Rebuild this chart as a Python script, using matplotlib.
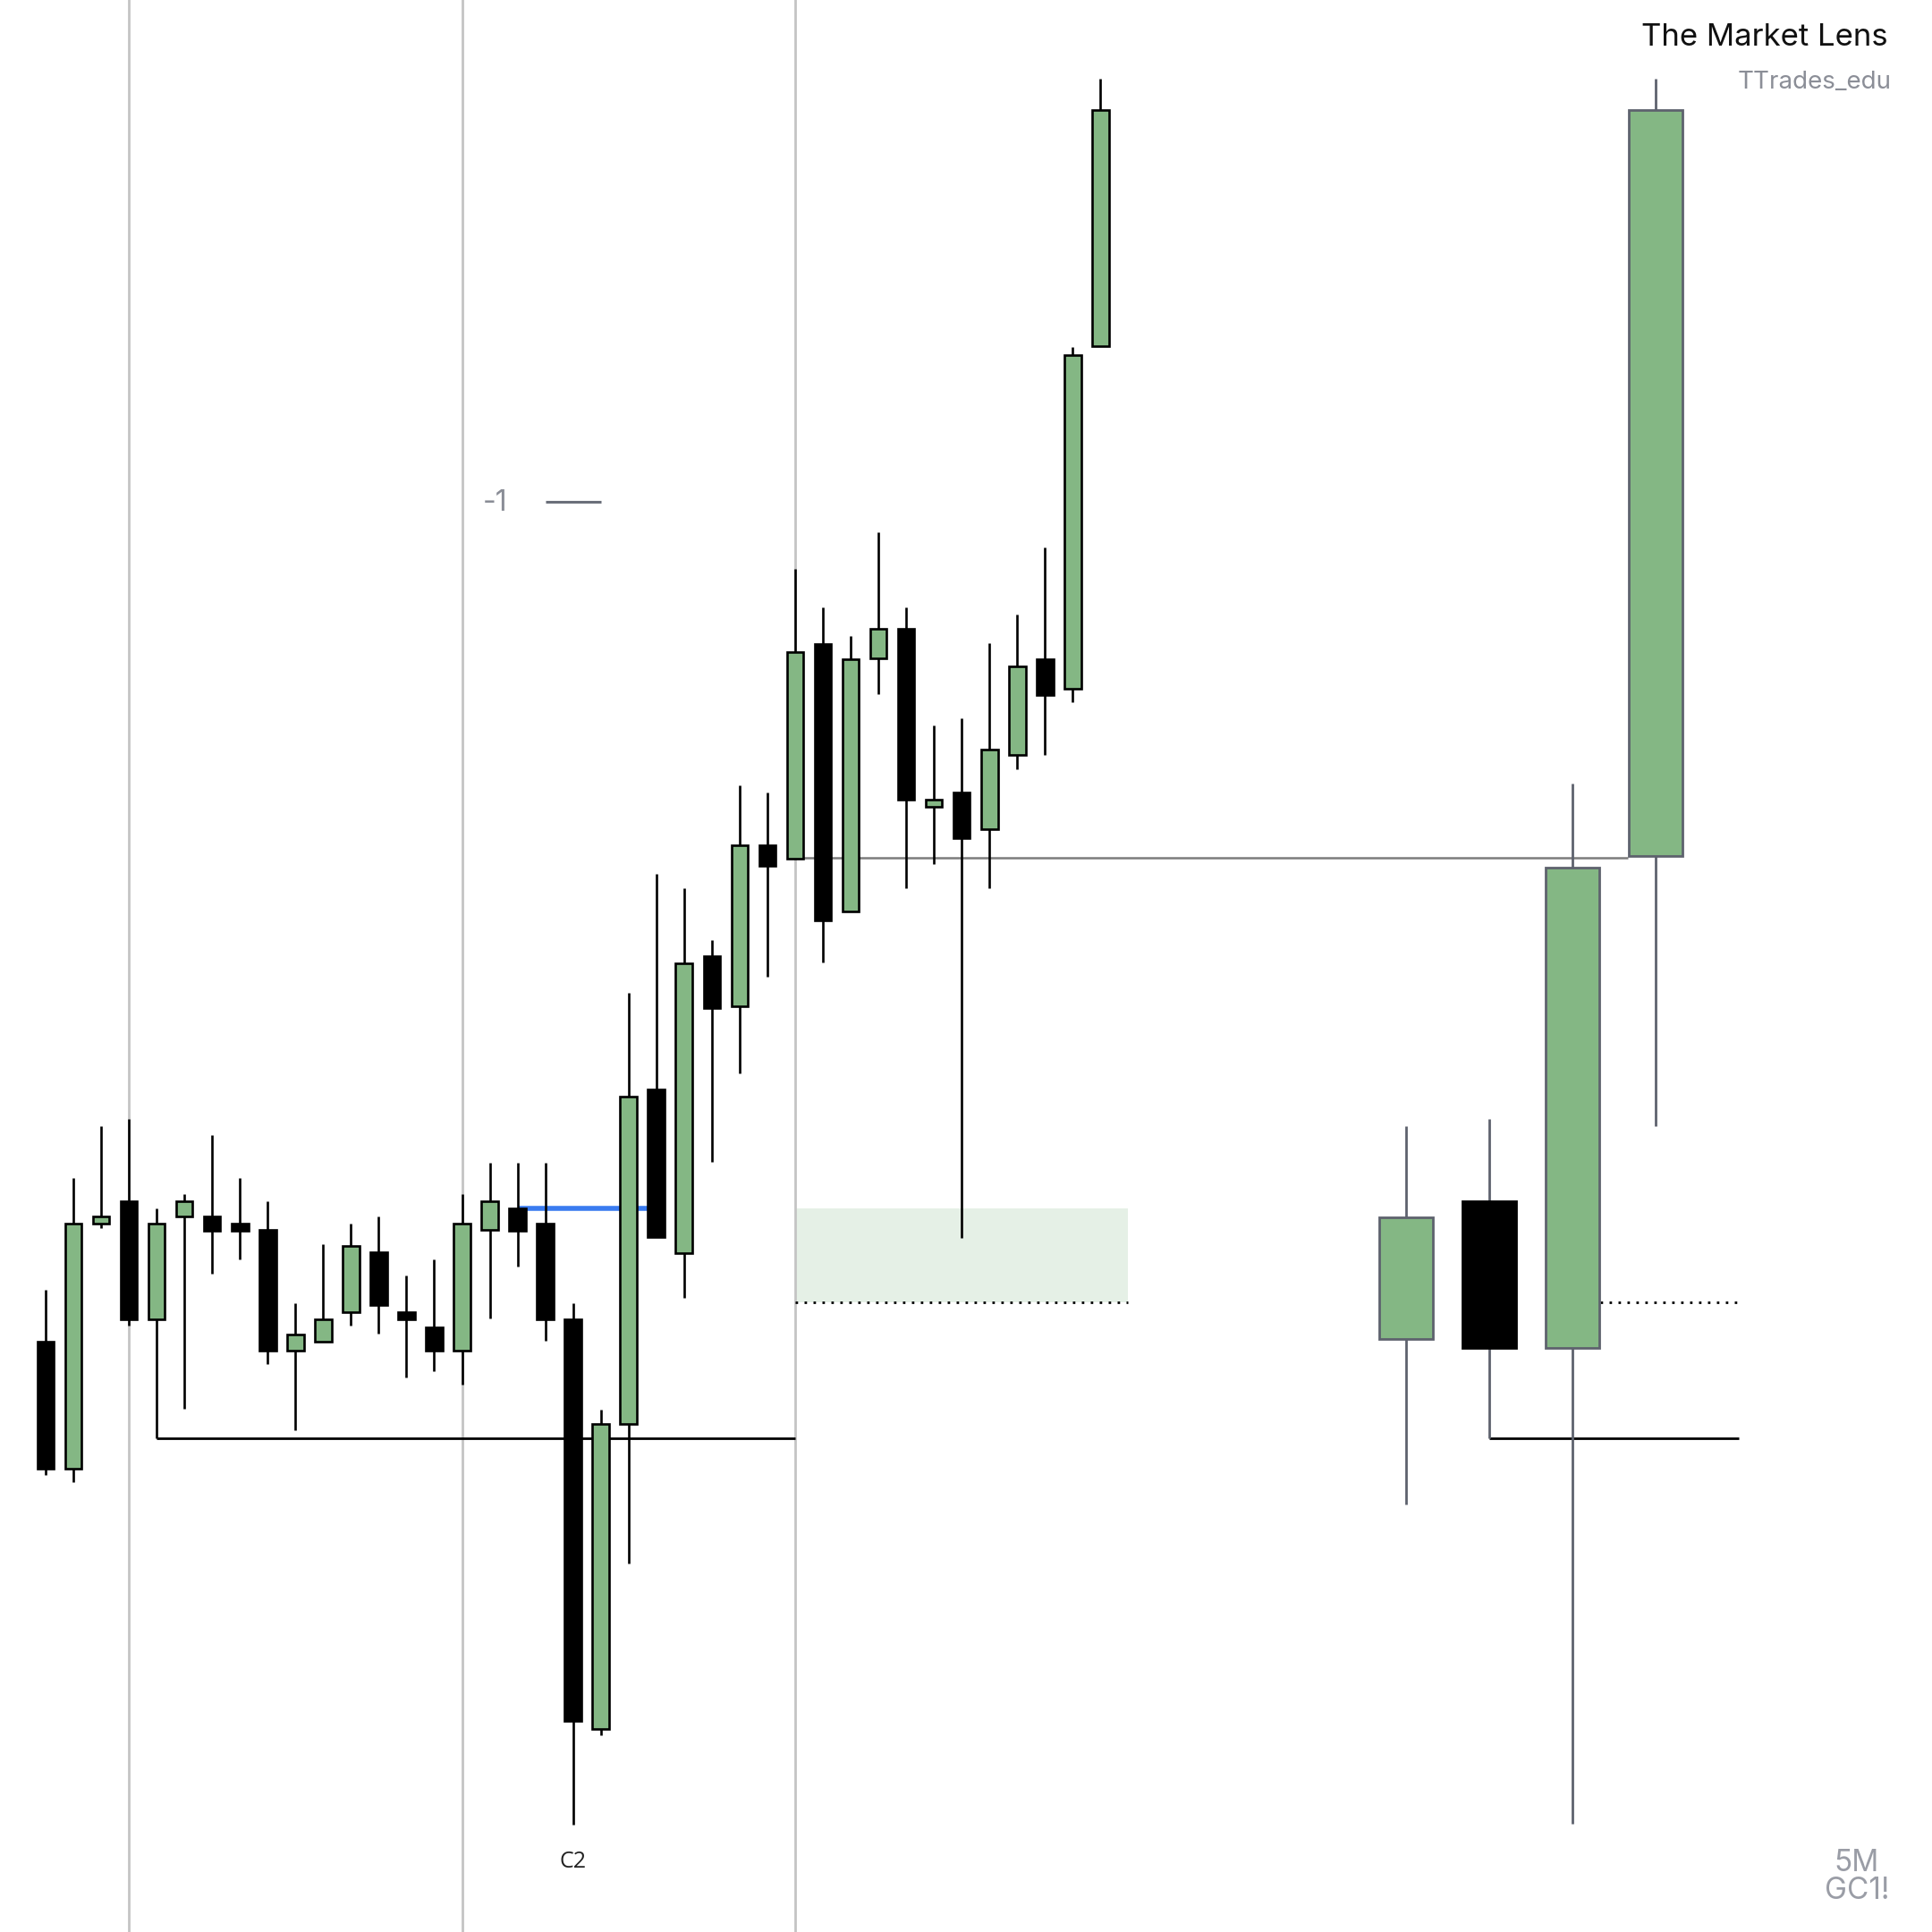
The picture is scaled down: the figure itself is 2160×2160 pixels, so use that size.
import matplotlib
matplotlib.use("Agg")
import matplotlib.pyplot as plt

# ---------------- data (price units) ----------------
# main 5M candles: open, high, low, close
opens  = [479, 376, 575, 593, 497, 581, 581, 575, 570, 472, 479, 503, 552, 503, 491, 472, 570, 587, 575,
          497, 165, 412, 684, 551, 792, 751, 882, 871, 1045, 828, 1034, 1058, 913, 925, 895, 955, 1033, 1009, 1287]
highs  = [521, 612, 654, 660, 587, 599, 647, 612, 593, 510, 558, 575, 581, 533, 546, 599, 624, 624, 624,
          510, 424, 762, 859, 847, 805, 931, 925, 1106, 1075, 1052, 1136, 1075, 979, 985, 1046, 1069, 1124, 1286, 1504]
lows   = [371, 365, 571, 492, 401, 425, 534, 546, 461, 407, 479, 492, 486, 450, 455, 444, 498, 540, 480,
          87, 160, 299, 564, 515, 625, 697, 775, 871, 787, 828, 1005, 847, 867, 563, 847, 944, 955, 998, 1287]
closes = [376, 575, 581, 497, 575, 593, 569, 569, 472, 485, 497, 557, 509, 497, 472, 575, 593, 569, 497,
          171, 412, 678, 564, 786, 750, 882, 865, 1039, 821, 1033, 1058, 919, 919, 888, 960, 1027, 1004, 1280, 1479]

# higher-timeframe candles on the right
htf_x      = [49, 52, 55, 58]
htf_open   = [481, 593, 474, 873]
htf_high   = [654, 660, 932, 1504]
htf_low    = [347, 401, 88, 654]
htf_close  = [580, 474, 864, 1479]

# levels
session_lines = [3, 15, 27]
low_level = 401          # black swing-low line
blue_level = 587
gray_level = 872
zone_top, zone_bottom = 587, 511
minus1_level = 1161

GREEN = "#84b784"
WICK_GRAY = "#5e626e"

fig = plt.figure(figsize=(21.6, 21.6), dpi=100)
ax = fig.add_axes([0, 0, 1, 1])
ax.set_xlim(-1.642, 67.954)
ax.set_ylim(0, 1568)
ax.axis("off")

# session separators
for sx in session_lines:
    ax.axvline(sx, color="#c4c4c4", lw=2.0, zorder=1)

# FVG zone
ax.fill_between([27, 39], zone_bottom, zone_top, color="#e5f0e6", lw=0, zorder=0.5)
ax.hlines(zone_bottom, 27, 39, colors="black", lw=2.0, linestyles=(0, (1, 2.6)), zorder=2)

# level lines
ax.hlines(low_level, 4, 27, colors="black", lw=2.0, zorder=2)
ax.hlines(blue_level, 17, 21.7, colors="#3a7bf0", lw=4.0, zorder=2)
ax.hlines(gray_level, 27, 57, colors="#7c7c7c", lw=1.8, zorder=2)

# main candles
n = len(opens)
xs = list(range(n))
for i in xs:
    o, h, l, c = opens[i], highs[i], lows[i], closes[i]
    bull = c >= o
    ax.vlines(i, l, h, colors="black", lw=1.9, zorder=3)
    ax.bar(i, c - o, bottom=o, width=0.6,
           color=GREEN if bull else "black", edgecolor="black", linewidth=1.9, zorder=4)

# higher timeframe candles
for x, o, h, l, c in zip(htf_x, htf_open, htf_high, htf_low, htf_close):
    bull = c >= o
    ax.vlines(x, l, h, colors=WICK_GRAY, lw=2.0, zorder=3)
    ax.bar(x, c - o, bottom=o, width=1.93,
           color=GREEN if bull else "black",
           edgecolor=WICK_GRAY if bull else "black", linewidth=2.0, zorder=4)

# right side levels
ax.hlines(low_level, 52, 61, colors="black", lw=2.0, zorder=2)
ax.hlines(zone_bottom, 56, 61, colors="black", lw=2.0, linestyles=(0, (1, 2.6)), zorder=2)

# -1 label
ax.text(16.64, minus1_level - 1, "-1", ha="right", va="center", fontsize=23,
        color="#8a8d96", family=["Inter", "DejaVu Sans"])
ax.hlines(minus1_level, 18.02, 20.0, colors="#6b6f7a", lw=2.2, zorder=2)

# C2 label
ax.text(19, 57, "C2", ha="center", va="center", fontsize=18, color="#222222",
        family=["Open Sans", "DejaVu Sans"])

# header / footer text
fig.text(0.977, 0.9806, "The Market Lens", ha="right", va="center", fontsize=25,
         color="#111111", family=["Inter", "DejaVu Sans"])
fig.text(0.979, 0.9575, "TTrades_edu", ha="right", va="center", fontsize=20,
         color="#8b8e97", family=["Inter", "DejaVu Sans"])
fig.text(0.961, 0.0285, "5M\nGC1!", ha="center", va="center", fontsize=24,
         color="#9a9da6", linespacing=0.95, multialignment="center",
         family=["Inter", "DejaVu Sans"])

fig.savefig("out.png", dpi=100, facecolor="white")
